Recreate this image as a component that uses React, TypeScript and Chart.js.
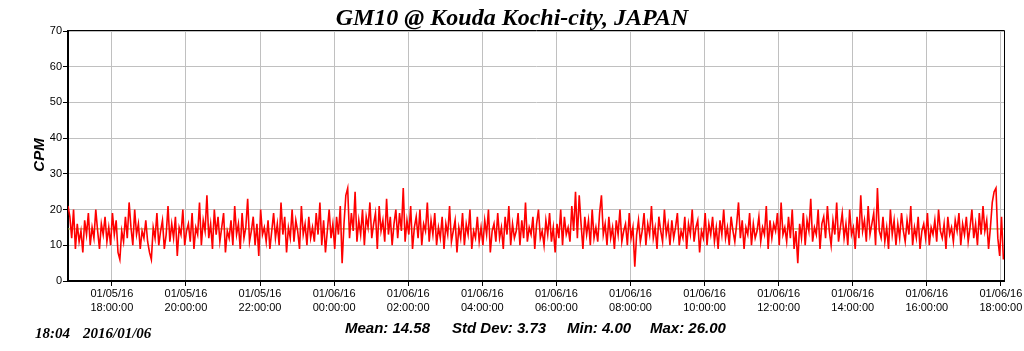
import React, { useEffect, useRef } from "react";
import { Chart, registerables } from "chart.js";

Chart.register(...registerables);

// Time axis in minutes since 2016/01/05 00:00; one sample every 3 minutes from 16:49
const startMinute = 1009;
const sampleStep = 3;
const xMin = 1009;
const xMax = 2525;

const cpmValues: number[] = [
  21, 18, 12, 20, 9, 16, 11, 14, 8, 17, 13, 19, 10, 15, 12, 20, 14, 9, 16, 13, 18, 11,
  15, 10, 19, 13, 17, 8, 6, 14, 11, 18, 12, 22, 15, 10, 20, 13, 16, 9, 14, 12, 17, 11,
  8, 6, 15, 12, 19, 10, 14, 17, 9, 13, 21, 11, 16, 12, 18, 7, 15, 13, 20, 10, 14, 16,
  11, 19, 9, 15, 13, 22, 10, 17, 14, 24, 12, 16, 9, 20, 13, 18, 11, 15, 19, 8, 14, 12,
  17, 10, 21, 13, 16, 9, 19, 12, 15, 23, 11, 14, 18, 10, 16, 7, 20, 13, 15, 11, 17, 9,
  14, 19, 12, 16, 10, 22, 13, 18, 8, 15, 12, 20, 11, 17, 14, 9, 21, 13, 16, 10, 18, 12,
  15, 11, 19, 13, 22, 10, 17, 8, 14, 20, 12, 16, 9, 18, 13, 21, 5, 16, 24, 26, 12, 19,
  14, 25, 11, 17, 13, 20, 10, 18, 15, 22, 12, 16, 19, 9, 21, 14, 17, 11, 23, 13, 18, 10,
  16, 20, 12, 19, 14, 26, 11, 17, 13, 21, 9, 15, 18, 12, 20, 10, 16, 14, 22, 11, 17, 13,
  19, 10, 15, 12, 18, 9, 16, 13, 21, 11, 14, 17, 8, 15, 12, 19, 10, 16, 13, 20, 9, 14,
  12, 18, 11, 15, 10, 17, 13, 20, 8, 14, 16, 11, 19, 12, 15, 9, 18, 13, 21, 10, 16, 12,
  14, 19, 10, 17, 12, 22, 11, 15, 13, 18, 9, 16, 20, 12, 14, 10, 17, 13, 19, 11, 15, 8,
  16, 12, 20, 10, 18, 13, 15, 11, 21, 14, 25, 12, 24, 16, 9, 18, 13, 17, 10, 20, 12, 15,
  11, 19, 24, 13, 16, 10, 18, 12, 15, 9, 17, 13, 20, 11, 14, 16, 10, 19, 12, 15, 4, 13,
  17, 11, 14, 19, 10, 16, 13, 21, 12, 15, 9, 18, 14, 11, 20, 13, 16, 10, 17, 12, 15, 19,
  10, 14, 12, 18, 9, 16, 13, 20, 11, 15, 17, 8, 14, 12, 19, 10, 16, 13, 18, 11, 15, 9,
  17, 13, 20, 12, 15, 10, 18, 14, 11, 16, 22, 12, 17, 9, 15, 13, 19, 10, 16, 12, 14, 18,
  11, 15, 13, 21, 9, 17, 12, 16, 14, 19, 10, 22, 13, 15, 11, 18, 12, 20, 9, 14, 5, 16,
  12, 19, 10, 17, 14, 23, 11, 15, 13, 20, 9, 16, 18, 12, 21, 14, 10, 17, 13, 22, 11, 15,
  19, 12, 16, 10, 20, 13, 15, 9, 18, 12, 24, 14, 17, 11, 21, 13, 16, 19, 10, 26, 14, 12,
  18, 11, 15, 9, 20, 13, 17, 10, 16, 12, 19, 14, 11, 17, 13, 21, 10, 15, 12, 18, 9, 14,
  16, 12, 19, 10, 15, 13, 17, 11, 20, 14, 12, 16, 9, 18, 13, 15, 11, 17, 14, 19, 10, 16,
  13, 18, 11, 15, 20, 12, 16, 10, 19, 13, 21, 14, 17, 9, 15, 22, 25, 26, 12, 7, 18, 6,
];

const meanValue = 14.58;
const xTickMinutes = [1080, 1200, 1320, 1440, 1560, 1680, 1800, 1920, 2040, 2160, 2280, 2400, 2520];
const xTickDates = ["01/05/16", "01/05/16", "01/05/16", "01/06/16", "01/06/16", "01/06/16", "01/06/16", "01/06/16", "01/06/16", "01/06/16", "01/06/16", "01/06/16", "01/06/16"];
const xTickTimes = ["18:00:00", "20:00:00", "22:00:00", "00:00:00", "02:00:00", "04:00:00", "06:00:00", "08:00:00", "10:00:00", "12:00:00", "14:00:00", "16:00:00", "18:00:00"];

const titleText = "GM10 @ Kouda Kochi-city, JAPAN";
const yAxisTitle = "CPM";
const statsTexts = ["Mean: 14.58", "Std Dev: 3.73", "Min: 4.00", "Max: 26.00"];
const stampTexts = ["18:04", "2016/01/06"];

export default function App() {
  const ref = useRef<HTMLCanvasElement>(null);

  useEffect(() => {
    if (!ref.current) return;
    const points = cpmValues.map((v, i) => ({ x: startMinute + i * sampleStep, y: v }));
    const meanPts = [
      { x: xMin, y: meanValue },
      { x: xMax, y: meanValue },
    ];

    const textPlugin = {
      id: "texts",
      afterDraw(chart: any) {
        const ctx = chart.ctx;
        const a = chart.chartArea;
        ctx.save();
        // frame top & right
        ctx.strokeStyle = "#000";
        ctx.lineWidth = 1;
        ctx.beginPath();
        ctx.moveTo(a.left, a.top - 0.5);
        ctx.lineTo(a.right + 0.5, a.top - 0.5);
        ctx.lineTo(a.right + 0.5, a.bottom);
        ctx.stroke();

        ctx.fillStyle = "#000";
        ctx.textBaseline = "alphabetic";
        ctx.textAlign = "center";
        ctx.font = "bold italic 24px 'Liberation Serif'";
        ctx.fillText(titleText, 512, 25);

        ctx.textAlign = "left";
        ctx.font = "bold italic 15px 'Liberation Sans'";
        const sx = [345, 452, 567, 650];
        statsTexts.forEach((t, i) => ctx.fillText(t, sx[i], 333));

        ctx.font = "bold italic 15px 'Liberation Serif'";
        ctx.fillText(stampTexts[0], 35, 338);
        ctx.fillText(stampTexts[1], 83, 338);

        ctx.translate(44, 155);
        ctx.rotate(-Math.PI / 2);
        ctx.textAlign = "center";
        ctx.font = "bold italic 15px 'Liberation Sans'";
        ctx.fillText(yAxisTitle, 0, 0);
        ctx.restore();
      },
    };

    const chart = new Chart(ref.current, {
      type: "line",
      data: {
        datasets: [
          {
            data: points,
            borderColor: "#ff0000",
            borderWidth: 1.6,
            pointRadius: 0,
            tension: 0,
            order: 1,
          },
          {
            data: meanPts,
            borderColor: "#a0a040",
            borderWidth: 1,
            pointRadius: 0,
            order: 2,
          },
        ],
      },
      options: {
        animation: false,
        responsive: false,
        events: [],
        layout: { padding: { top: 31, right: 20, left: 0, bottom: 0 } },
        plugins: { legend: { display: false }, tooltip: { enabled: false }, title: { display: false } },
        scales: {
          x: {
            type: "linear",
            min: xMin,
            max: xMax,
            afterFit(scale: any) {
              scale.height = 70;
            },
            afterBuildTicks(scale: any) {
              scale.ticks = xTickMinutes.map((v) => ({ value: v }));
            },
            ticks: {
              autoSkip: false,
              maxRotation: 0,
              padding: 1,
              color: "#000",
              font: { family: "'Liberation Sans'", size: 11, lineHeight: 1.3 },
              callback: (v: any) => {
                const i = xTickMinutes.indexOf(Number(v));
                return i >= 0 ? [xTickDates[i], xTickTimes[i]] : "";
              },
            },
            grid: { color: "#c0c0c0", lineWidth: 1, tickLength: 5, tickColor: "#000" },
            border: { color: "#000", width: 2 },
          },
          y: {
            min: 0,
            max: 70,
            afterFit(scale: any) {
              scale.width = 68;
            },
            ticks: {
              stepSize: 10,
              padding: 1,
              color: "#000",
              font: { family: "'Liberation Sans'", size: 11 },
            },
            grid: { color: "#c0c0c0", lineWidth: 1, tickLength: 5, tickColor: "#000" },
            border: { color: "#000", width: 2 },
          },
        },
      },
      plugins: [textPlugin],
    });
    return () => chart.destroy();
  }, []);

  return (
    <div style={{ position: "absolute", left: 0, top: 0, width: 1024, height: 351, background: "#fff" }}>
      <canvas ref={ref} width={1024} height={351} style={{ display: "block" }} />
    </div>
  );
}
